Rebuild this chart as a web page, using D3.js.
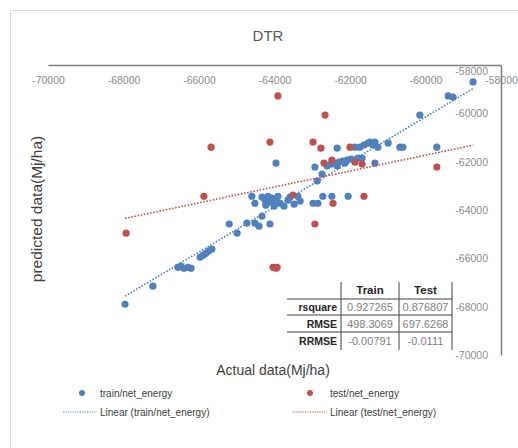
<!DOCTYPE html>
<html>
<head>
<meta charset="utf-8">
<script src="https://cdn.jsdelivr.net/npm/d3@7"></script>
<style>
  html, body { margin: 0; padding: 0; background: #ffffff; }
  svg { display: block; }
  text { font-family: "Liberation Sans", Arial, sans-serif; }
</style>
</head>
<body>
<svg id="chart" width="518" height="448"></svg>
<script>
// ---------- data ----------
const chartTitle = "DTR";
const xAxisTitle = "Actual data(Mj/ha)";
const yAxisTitle = "predicted data(Mj/ha)";

const xTicks = [-70000, -68000, -66000, -64000, -62000, -60000, -58000];
const yTicks = [-70000, -68000, -66000, -64000, -62000, -60000, -58000];

const trainActual = [
  -67960, -67220, -66560, -66480, -66400, -66290, -66210,
  -65970, -65890, -65820, -65740, -65660,
  -65200, -64990, -64730, -64520, -64410, -64330, -64120,
  -64600, -64520,
  -64330, -64250, -64230, -64170, -64120, -64070, -64010, -63960,
  -63910, -63850, -63750, -63640, -63590, -63480, -63380, -63320,
  -63960,
  -62980, -62850, -62720, -62480, -62050,
  -62930, -62740, -62870,
  -62610, -62500, -62400, -62290, -62190, -62080, -61970, -61870, -61790, -61680, -62340, -62130,
  -61340,
  -62340, -61870, -61740, -61630, -61520, -61470, -61390, -61340, -61260, -60990, -60680, -60600, -59700,
  -60150,
  -59400, -59270,
  -58740
];
const trainPredicted = [
  -67900, -67150, -66370, -66320, -66410, -66370, -66410,
  -65950, -65870, -65790, -65700, -65620,
  -64580, -64960, -64540, -64540, -64670, -64250, -64580,
  -63430, -63720,
  -63470, -63590, -63800, -63430, -63670, -63510, -63840, -63590,
  -63430, -63720, -63840, -63590, -63470, -63760, -63430, -63630,
  -62060,
  -63720, -63720, -63430, -63430, -63430,
  -62220, -62510, -62800,
  -62180, -62100, -62060, -62020, -61980, -61930, -61890, -61930, -61850, -61850, -62180, -62060,
  -62060,
  -61440, -61400, -61400, -61310, -61230, -61190, -61310, -61190, -61400, -61230, -61400, -61400, -61400,
  -60070,
  -59280, -59330,
  -58700
];

const testActual = [
  -67930, -65870, -65680, -63910, -62660, -64120, -62980, -62770, -62000,
  -62690, -62480, -61870, -61680, -63510, -62450, -61630, -62930, -59700,
  -64040, -63930, -63960
];
const testPredicted = [
  -64960, -63430, -61400, -59280, -60070, -61190, -61190, -61440, -61400,
  -62060, -61930, -62020, -62100, -63380, -63720, -63430, -64580, -62220,
  -66370, -66370, -66410
];

const statColumns = ["Train", "Test"];
const statRows = ["rsquare", "RMSE", "RRMSE"];
const trainStats = ["0.927265", "498.3069", "-0.00791"];
const testStats = ["0.876807", "697.6268", "-0.0111"];

const legendLabels = ["train/net_energy", "test/net_energy", "Linear (train/net_energy)", "Linear (test/net_energy)"];

// ---------- setup ----------
const colTrain = "#4f81bd";
const colTest = "#c0504d";
const svg = d3.select("#chart");

// outer chart-area border
svg.append("rect")
  .attr("x", 10.5).attr("y", 10.5).attr("width", 540).attr("height", 460)
  .attr("fill", "#ffffff").attr("stroke", "#d9d9d9").attr("stroke-width", 1);

const x = d3.scaleLinear().domain([-70000, -58000]).range([48, 501]);
const y = d3.scaleLinear().domain([-70000, -58000]).range([355, 65]);

// title
svg.append("text")
  .attr("x", 268).attr("y", 41)
  .attr("text-anchor", "middle")
  .style("font-size", "15px").attr("fill", "#595959")
  .text(chartTitle);

// x axis at top (crossing at -58000)
const xAxis = svg.append("g")
  .attr("transform", `translate(0,${y(-58000)})`)
  .call(d3.axisBottom(x).tickValues(xTicks).tickFormat(d => String(d)).tickSize(0).tickSizeOuter(0).tickPadding(12));
xAxis.select(".domain").attr("stroke", "#7f7f7f").attr("stroke-width", 1.5);
xAxis.selectAll("text").attr("fill", "#8c8c8c").style("font-size", "10.5px");

// y axis at right (crossing at -58000)
const yAxis = svg.append("g")
  .attr("transform", `translate(${x(-58000)},0)`)
  .call(d3.axisLeft(y).tickValues(yTicks).tickFormat(d => String(d)).tickSize(0).tickSizeOuter(0).tickPadding(13));
yAxis.select(".domain").attr("stroke", "#7f7f7f").attr("stroke-width", 1.5);
yAxis.selectAll("text").attr("fill", "#8c8c8c").style("font-size", "10.5px");
// top label sits a little below the crossing axis, as in the original
yAxis.selectAll(".tick").filter(d => d === -58000).select("text").attr("dy", "0.95em");

// axis titles
svg.append("text")
  .attr("transform", "translate(42,209) rotate(-90)")
  .attr("text-anchor", "middle")
  .style("font-size", "15.5px").attr("fill", "#404040")
  .text(yAxisTitle);
svg.append("text")
  .attr("x", 273).attr("y", 375)
  .attr("text-anchor", "middle")
  .style("font-size", "14px").attr("fill", "#404040")
  .text(xAxisTitle);

// linear trendlines (ordinary least squares, like Excel "Linear")
function ols(xs, ys) {
  const mx = d3.mean(xs), my = d3.mean(ys);
  let sxy = 0, sxx = 0;
  xs.forEach((v, i) => { sxy += (v - mx) * (ys[i] - my); sxx += (v - mx) * (v - mx); });
  const b = sxy / sxx;
  return { b, a: my - b * mx };
}
const span = d3.extent(trainActual);
function drawTrend(xs, ys, color) {
  const f = ols(xs, ys);
  svg.append("line")
    .attr("x1", x(span[0])).attr("y1", y(f.a + f.b * span[0]))
    .attr("x2", x(span[1])).attr("y2", y(f.a + f.b * span[1]))
    .attr("stroke", color).attr("stroke-width", 1.6)
    .attr("stroke-dasharray", "1.6,1.6");
}

// points
const trainPts = trainActual.map((v, i) => [v, trainPredicted[i]]);
const testPts = testActual.map((v, i) => [v, testPredicted[i]]);

svg.append("g").selectAll("circle").data(trainPts).join("circle")
  .attr("cx", d => x(d[0])).attr("cy", d => y(d[1])).attr("r", 3.6)
  .attr("fill", colTrain);
svg.append("g").selectAll("circle").data(testPts).join("circle")
  .attr("cx", d => x(d[0])).attr("cy", d => y(d[1])).attr("r", 3.6)
  .attr("fill", colTest);

drawTrend(trainActual, trainPredicted, colTrain);
drawTrend(testActual, testPredicted, colTest);

// statistics table
const tbl = svg.append("g");
const colX = [341, 399, 452];   // vertical rule positions
const headY = 282, rowH = [299, 315, 332, 350];
tbl.selectAll("line.v").data(colX).join("line")
  .attr("x1", d => d).attr("x2", d => d).attr("y1", headY).attr("y2", rowH[3])
  .attr("stroke", "#404040").attr("stroke-width", 1);
tbl.selectAll("line.h").data(rowH.slice(0, 3)).join("line")
  .attr("x1", 287).attr("x2", 452).attr("y1", d => d).attr("y2", d => d)
  .attr("stroke", "#404040").attr("stroke-width", 1);
tbl.selectAll("text.head").data(statColumns).join("text")
  .attr("x", (d, i) => (colX[i] + colX[i + 1]) / 2).attr("y", 294)
  .attr("text-anchor", "middle").style("font-size", "11.5px").style("font-weight", "bold")
  .attr("fill", "#262626").text(d => d);
const rowMid = [311, 328, 345];
tbl.selectAll("text.rl").data(statRows).join("text")
  .attr("x", 337).attr("y", (d, i) => rowMid[i])
  .attr("text-anchor", "end").style("font-size", "10.5px").style("font-weight", "bold")
  .attr("fill", "#262626").text(d => d);
[trainStats, testStats].forEach((col, c) => {
  tbl.selectAll(null).data(col).join("text")
    .attr("x", (colX[c] + colX[c + 1]) / 2).attr("y", (d, i) => rowMid[i])
    .attr("text-anchor", "middle").style("font-size", "11px")
    .attr("fill", "#7f7f7f").text(d => d);
});

// legend
const lg = svg.append("g").style("font-size", "10px");
const legendItems = [
  { label: legendLabels[0], color: colTrain, type: "dot", x: 82, y: 393, tx: 100 },
  { label: legendLabels[1], color: colTest, type: "dot", x: 310, y: 393, tx: 330 },
  { label: legendLabels[2], color: colTrain, type: "line", x: 63, y: 412, tx: 100 },
  { label: legendLabels[3], color: colTest, type: "line", x: 293, y: 412, tx: 330 }
];
legendItems.forEach(it => {
  if (it.type === "dot") {
    lg.append("circle").attr("cx", it.x).attr("cy", it.y).attr("r", 3).attr("fill", it.color);
  } else {
    lg.append("line").attr("x1", it.x).attr("x2", it.x + 34).attr("y1", it.y).attr("y2", it.y)
      .attr("stroke", it.color).attr("stroke-width", 1.2).attr("stroke-dasharray", "1.2,1.2");
  }
  lg.append("text").attr("x", it.tx).attr("y", it.y + 3.5).attr("fill", "#404040").text(it.label);
});
</script>
</body>
</html>
